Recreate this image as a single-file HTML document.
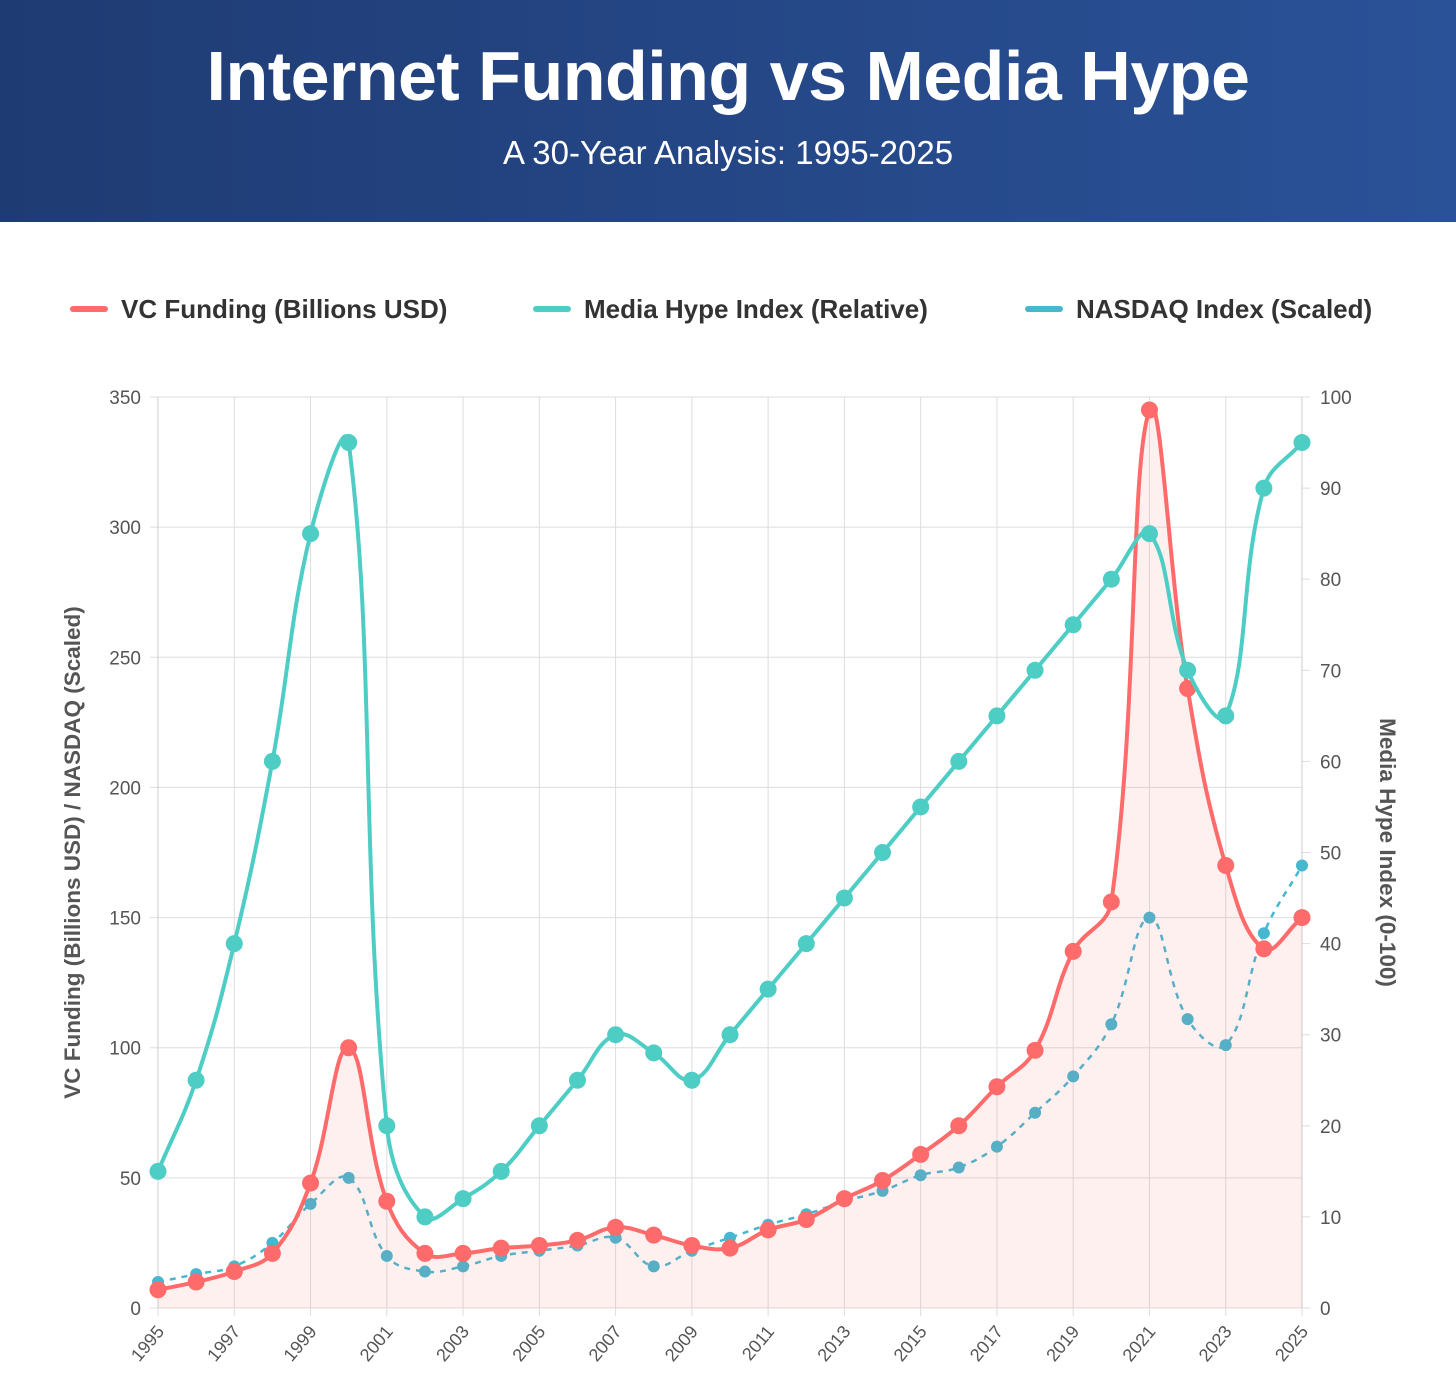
<!DOCTYPE html>
<html><head><meta charset="utf-8">
<style>
body{margin:0;width:1456px;height:1396px;background:#fff;font-family:"Liberation Sans",sans-serif;overflow:hidden}
#hdr{position:absolute;left:0;top:0;width:1456px;height:222px;background:linear-gradient(90deg,#1f3b73,#2a5298)}
#title{position:absolute;top:36px;width:100%;text-align:center;color:#fff;font-weight:bold;font-size:70px;letter-spacing:-0.5px}
#sub{position:absolute;top:134px;width:100%;text-align:center;color:#fff;font-size:33px}
svg{position:absolute;left:0;top:0}
</style></head><body>
<div id="hdr">
<div id="title">Internet Funding vs Media Hype</div>
<div id="sub">A 30-Year Analysis: 1995-2025</div>
</div>
<svg id="c" width="1456" height="1396"></svg>
<script>
const years=[1995,1996,1997,1998,1999,2000,2001,2002,2003,2004,2005,2006,2007,2008,2009,2010,2011,2012,2013,2014,2015,2016,2017,2018,2019,2020,2021,2022,2023,2024,2025];
const vcFunding=[7,10,14,21,48,100,41,21,21,23,24,26,31,28,24,23,30,34,42,49,59,70,85,99,137,156,345,238,170,138,150];
const hypeIndex=[15,25,40,60,85,95,20,10,12,15,20,25,30,28,25,30,35,40,45,50,55,60,65,70,75,80,85,70,65,90,95];
const nasdaq=[10,13,16,25,40,50,20,14,16,20,22,24,27,16,22,27,32,36,41,45,51,54,62,75,89,109,150,111,101,144,170];
const leftTicks=[0,50,100,150,200,250,300,350];
const rightTicks=[0,10,20,30,40,50,60,70,80,90,100];

const L=158,R=1302,T=397,B=1308;
const x=i=>L+(R-L)*i/(years.length-1);
const yL=v=>B-(B-T)*v/350;
const yR=v=>B-(B-T)*v/100;
const svg=document.getElementById('c');
const NS='http://www.w3.org/2000/svg';
function mk(tag,attrs,parent){const e=document.createElementNS(NS,tag);for(const k in attrs)e.setAttribute(k,attrs[k]);(parent||svg).appendChild(e);return e;}

const grid=mk('g',{});


leftTicks.forEach(v=>{
  mk('line',{x1:L-8,x2:R,y1:yL(v),y2:yL(v),stroke:'#ddd','stroke-width':1},grid);
  const t=mk('text',{x:L-17,y:yL(v)+7,'text-anchor':'end','font-size':19,fill:'#555'});
  
  
  t.textContent=v;
});
rightTicks.forEach(v=>{
  mk('line',{x1:R,x2:R+8,y1:yR(v),y2:yR(v),stroke:'#ddd'},grid);
  const t=mk('text',{x:R+18,y:yR(v)+7,'font-size':19,fill:'#555'});
  
  
  t.textContent=v;
});
years.forEach((yr,i)=>{
  if(i%2) return;
  mk('line',{x1:x(i),x2:x(i),y1:T,y2:B+8,stroke:'#ddd'},grid);
  const t=mk('text',{x:x(i)+7,y:B+24,'text-anchor':'end','font-size':18,fill:'#555',transform:`rotate(-50 ${x(i)+7} ${B+24})`});
  
  
  t.textContent=yr;
});
mk('line',{x1:L,x2:L,y1:T,y2:B,stroke:'#ccc'},grid);
mk('line',{x1:R,x2:R,y1:T,y2:B,stroke:'#ccc'},grid);

let at=mk('text',{x:80,y:(T+B)/2,'text-anchor':'middle','font-size':22.5,'font-weight':'bold',fill:'#555',transform:`rotate(-90 80 ${(T+B)/2})`});


at.textContent='VC Funding (Billions USD) / NASDAQ (Scaled)';
at=mk('text',{x:1380,y:(T+B)/2,'text-anchor':'middle','font-size':22.5,'font-weight':'bold',fill:'#555',transform:`rotate(90 1380 ${(T+B)/2})`});


at.textContent='Media Hype Index (0-100)';

function path(pts,t){
  t=t||0.4;let d=`M${pts[0][0]},${pts[0][1]}`;
  const cps=pts.map((p,i)=>{
    const pr=pts[i-1]||p,nx=pts[i+1]||p;
    const d01=Math.hypot(p[0]-pr[0],p[1]-pr[1]),d12=Math.hypot(nx[0]-p[0],nx[1]-p[1]);
    let fa=d01/(d01+d12)||0,fb=d12/(d01+d12)||0;fa*=t;fb*=t;
    return {pv:[p[0]-fa*(nx[0]-pr[0]),p[1]-fa*(nx[1]-pr[1])],nx:[p[0]+fb*(nx[0]-pr[0]),p[1]+fb*(nx[1]-pr[1])]};
  });
  for(let i=1;i<pts.length;i++){const a=cps[i-1].nx,b=cps[i].pv;d+=`C${a[0]},${a[1]} ${b[0]},${b[1]} ${pts[i][0]},${pts[i][1]}`;}
  return d;
}
function series(vals,ys,color,name,r,dash,fill,w){
  const g=mk('g',{});
  
  
  const pts=vals.map((v,i)=>[x(i),ys(v)]);
  const d=path(pts);
  if(fill){const f=mk('path',{d:d+`L${R},${B}L${L},${B}Z`,fill:'rgba(255,107,107,0.1)'},g);
    }
  const ln=mk('path',{d,fill:'none',stroke:color,'stroke-width':w,'stroke-dasharray':dash||'none'},g);
  
  
  pts.forEach(p=>{const c=mk('circle',{cx:p[0],cy:p[1],r,fill:color},g);
    
    });
}
series(nasdaq,yL,'#45b7d1','nasdaq-series',6,'6,6',false,2.5);
series(vcFunding,yL,'#ff6b6b','vc-funding-series',8.5,null,true,4);
series(hypeIndex,yR,'#4ecdc4','media-hype-series',8.5,null,false,4);

const items=[['VC Funding (Billions USD)','#ff6b6b',73],['Media Hype Index (Relative)','#4ecdc4',536],['NASDAQ Index (Scaled)','#45b7d1',1028]];
items.forEach(([lab,col,lx])=>{
  const g=mk('g',{});
  
  
  mk('line',{x1:lx,x2:lx+32,y1:309,y2:309,stroke:col,'stroke-width':6,'stroke-linecap':'round'},g);
  const t=mk('text',{x:lx+48,y:318,'font-size':26,'font-weight':'bold',fill:'#333'},g);
  t.textContent=lab;
});
</script>
</body></html>
